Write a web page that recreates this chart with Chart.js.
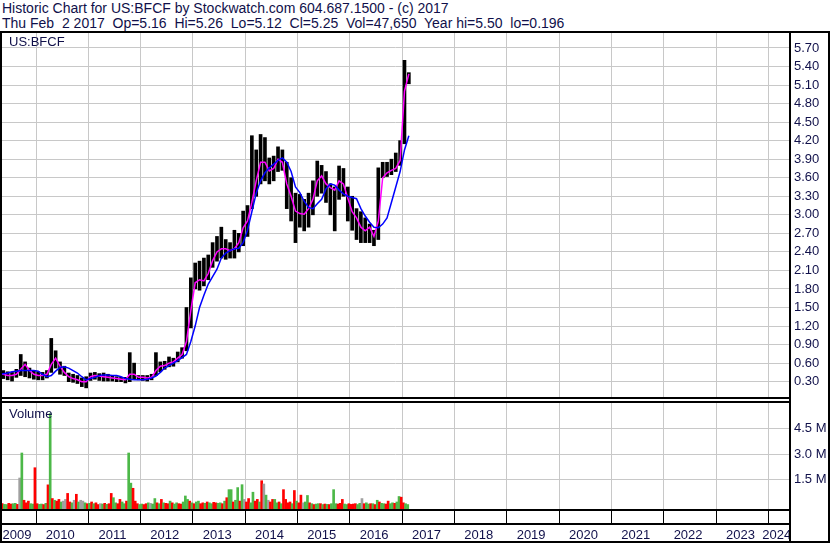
<!DOCTYPE html>
<html>
<head>
<meta charset="utf-8">
<title>Historic Chart for US:BFCF</title>
<script src="https://cdn.jsdelivr.net/npm/chart.js@4.4.1/dist/chart.umd.min.js"></script>
<style>
  html, body { margin: 0; padding: 0; background: #fff; }
  #wrap { position: relative; width: 830px; height: 543px; overflow: hidden; background: #fff;
          font-family: "Liberation Sans", Arial, sans-serif; color: #10104a; }
  .txt { position: absolute; white-space: pre; }
  .ln { position: absolute; background: #000; }
  canvas { position: absolute; left: 0; }
</style>
</head>
<body>
<div id="wrap">
  <div class="txt" style="left:2px;top:1px;font-size:14px;line-height:15px">Historic Chart for US:BFCF by Stockwatch.com 604.687.1500 - (c) 2017
Thu Feb  2 2017  Op=5.16  Hi=5.26  Lo=5.12  Cl=5.25  Vol=47,650  Year hi=5.50  lo=0.196</div>
  <canvas id="price" width="830" height="364" style="top:33px"></canvas>
  <canvas id="volume" width="830" height="140" style="top:403px"></canvas>
  <div class="txt" style="left:9px;top:34px;font-size:13px;line-height:15px">US:BFCF</div>
  <div class="txt" style="left:9px;top:406px;font-size:13px;line-height:15px">Volume</div>
  <div class="ln" style="left:0;top:31px;width:830px;height:2px"></div>
  <div class="ln" style="left:0;top:31px;width:2px;height:512px"></div>
  <div class="ln" style="left:789px;top:31px;width:2px;height:512px"></div>
  <div class="ln" style="left:828px;top:31px;width:2px;height:512px"></div>
  <div class="ln" style="left:0;top:397px;width:791px;height:2px"></div>
  <div class="ln" style="left:0;top:401px;width:791px;height:2px"></div>
  <div class="ln" style="left:0;top:509px;width:791px;height:2px"></div>
  <div class="ln" style="left:0;top:523px;width:791px;height:2px"></div>
  <div class="ln" style="left:0;top:541px;width:830px;height:2px"></div>
</div>
<script>
// monthly bars, Apr 2009 .. Feb 2017
const months = [
  "2009-04","2009-05","2009-06","2009-07","2009-08","2009-09","2009-10","2009-11","2009-12",
  "2010-01","2010-02","2010-03","2010-04","2010-05","2010-06","2010-07","2010-08","2010-09","2010-10","2010-11","2010-12",
  "2011-01","2011-02","2011-03","2011-04","2011-05","2011-06","2011-07","2011-08","2011-09","2011-10","2011-11","2011-12",
  "2012-01","2012-02","2012-03","2012-04","2012-05","2012-06","2012-07","2012-08","2012-09","2012-10","2012-11","2012-12",
  "2013-01","2013-02","2013-03","2013-04","2013-05","2013-06","2013-07","2013-08","2013-09","2013-10","2013-11","2013-12",
  "2014-01","2014-02","2014-03","2014-04","2014-05","2014-06","2014-07","2014-08","2014-09","2014-10","2014-11","2014-12",
  "2015-01","2015-02","2015-03","2015-04","2015-05","2015-06","2015-07","2015-08","2015-09","2015-10","2015-11","2015-12",
  "2016-01","2016-02","2016-03","2016-04","2016-05","2016-06","2016-07","2016-08","2016-09","2016-10","2016-11","2016-12",
  "2017-01","2017-02"
];

const high = [
  0.50,0.48,0.46,0.45,0.50,0.74,0.62,0.52,0.47,
  0.46,0.45,0.48,1.00,0.80,0.62,0.55,0.44,0.42,0.40,0.36,0.38,
  0.44,0.45,0.43,0.44,0.42,0.40,0.38,0.37,0.37,0.77,0.60,0.40,
  0.40,0.40,0.42,0.77,0.62,0.63,0.70,0.68,0.78,0.85,1.50,1.98,
  2.22,2.25,2.30,2.35,2.55,2.65,2.80,2.60,2.55,2.75,2.70,3.06,
  3.15,4.28,4.05,4.30,4.25,3.92,3.95,4.10,4.05,3.85,3.60,3.35,
  3.33,3.25,3.35,3.55,3.87,3.80,3.70,3.50,3.45,3.79,3.75,3.45,
  3.30,3.10,3.05,2.95,2.85,2.75,3.76,3.85,3.85,3.90,4.00,4.20,
  5.50,5.30
];
const low = [
  0.36,0.35,0.33,0.31,0.37,0.40,0.38,0.36,0.34,
  0.33,0.33,0.36,0.45,0.52,0.42,0.40,0.30,0.29,0.27,0.22,0.20,
  0.32,0.34,0.32,0.31,0.31,0.31,0.30,0.30,0.28,0.30,0.34,0.33,
  0.32,0.31,0.33,0.40,0.46,0.50,0.54,0.55,0.62,0.68,0.80,1.17,
  1.80,1.78,1.85,1.95,2.15,2.25,2.30,2.28,2.30,2.30,2.40,2.50,
  2.65,3.10,3.30,3.50,3.55,3.50,3.55,3.70,3.72,3.10,2.90,2.55,
  2.80,2.74,2.80,3.00,3.30,3.35,3.20,3.00,2.74,3.25,3.30,2.90,
  2.75,2.60,2.55,2.55,2.55,2.50,2.60,3.60,3.62,3.65,3.70,3.80,
  4.15,5.12
];
// short (magenta) and long (blue) moving averages as drawn
const shortAvg = [
  0.42,0.42,0.40,0.40,0.42,0.50,0.58,0.48,0.42,
  0.40,0.40,0.42,0.58,0.68,0.55,0.45,0.38,0.35,0.33,0.30,0.30,
  0.38,0.40,0.39,0.38,0.37,0.36,0.35,0.34,0.33,0.42,0.42,0.37,
  0.37,0.36,0.37,0.48,0.55,0.56,0.60,0.62,0.68,0.74,0.95,1.45,
  1.90,1.95,1.93,2.05,2.26,2.40,2.45,2.45,2.42,2.45,2.55,2.79,
  2.90,3.20,3.55,3.85,3.85,3.71,3.75,3.90,3.85,3.50,3.30,3.06,
  3.02,3.01,3.10,3.25,3.55,3.63,3.50,3.44,3.40,3.55,3.50,3.27,
  3.05,2.95,2.80,2.74,2.80,2.65,2.90,3.60,3.68,3.72,3.75,3.88,
  5.00,5.28
];
const longAvg = [
  0.42,0.43,0.44,0.46,0.47,0.48,0.48,0.48,0.48,
  0.47,0.42,0.38,0.40,0.47,0.53,0.54,0.52,0.48,0.44,0.38,0.33,
  0.35,0.37,0.40,0.41,0.41,0.40,0.40,0.38,0.35,0.34,0.33,0.33,
  0.33,0.34,0.36,0.39,0.45,0.52,0.56,0.60,0.64,0.69,0.74,0.95,
  1.20,1.50,1.70,1.88,2.00,2.12,2.30,2.38,2.42,2.45,2.46,2.55,
  2.75,3.05,3.35,3.55,3.68,3.76,3.82,3.88,3.92,3.85,3.70,3.45,
  3.36,3.22,3.12,3.10,3.18,3.25,3.42,3.50,3.48,3.40,3.34,3.30,
  3.28,3.26,3.10,2.98,2.88,2.80,2.79,2.85,2.95,3.20,3.45,3.70,
  4.05,4.28
];

// volume in millions, first and second half of each month
const volFirst = [
  0.08,0.10,0.05,0.08,0.12,1.60,0.30,0.25,0.08,
  0.10,0.08,0.12,5.36,0.30,0.35,0.25,0.70,0.15,0.65,0.30,0.15,
  0.12,0.10,0.05,0.08,0.06,0.70,0.15,0.35,0.10,3.06,1.00,0.10,
  0.08,0.10,0.12,0.40,0.10,0.15,0.10,0.15,0.15,0.08,0.55,0.25,
  0.10,0.25,0.15,0.20,0.10,0.15,0.15,0.25,0.92,0.20,1.04,1.21,
  0.20,0.15,0.25,0.20,1.25,0.30,0.35,0.15,0.10,0.35,0.20,0.87,
  0.15,0.15,0.58,0.10,0.08,0.10,0.08,0.05,0.92,0.08,0.35,0.05,
  0.06,0.10,0.12,0.10,0.08,0.10,0.30,0.12,0.08,0.10,0.12,0.52,
  0.15,0.05
];
const volSecond = [
  0.05,0.06,0.12,0.10,0.06,3.06,0.15,0.10,2.20,
  0.06,0.05,1.20,0.40,0.25,0.20,0.35,0.20,0.30,0.20,0.25,0.10,
  0.20,0.15,0.10,0.12,0.10,0.45,0.10,0.20,0.25,1.30,0.25,0.05,
  0.05,0.15,0.08,0.15,0.35,0.12,0.25,0.08,0.10,0.20,0.35,0.15,
  0.20,0.10,0.12,0.15,0.18,0.12,0.10,0.45,0.92,0.30,0.25,0.35,
  0.40,0.77,0.35,1.44,0.60,0.20,0.35,0.20,0.92,0.15,0.10,0.25,
  0.60,0.20,0.15,0.05,0.10,0.05,0.06,0.10,0.10,0.12,0.08,0.10,
  0.08,0.05,0.40,0.15,0.10,0.05,0.20,0.10,0.25,0.15,0.20,0.48,
  0.10,null
];
// g = up day, r = down day, n = unchanged
const dirFirst = ("grgrgnrrg" + "rggggrnrgrng" + "ggrggrgrggrr" + "grngggrrgrgr" +
  "rgrrgrgggrgg" + "rgrgnnrggrrr" + "rngggrrrgrrg" + "rrgrggggrgrg" + "rg").split("");
const dirSecond = ("rgrgrgrgr" + "grrrrgnrngnr" + "rrnrrgrgrgrg" + "rggrrrggrggg" +
  "grggrgrrggrn" + "rgrrgrgrrrgg" + "rgrrgggggrgr" + "rgngrrrgrggr" + "gg").split("");

// axis labels
const priceTicks = [0.30,0.60,0.90,1.20,1.50,1.80,2.10,2.40,2.70,3.00,3.30,3.60,3.90,4.20,4.50,4.80,5.10,5.40,5.70];
const volumeTicks = [1.5, 3.0, 4.5];
const years = [2009,2010,2011,2012,2013,2014,2015,2016,2017,2018,2019,2020,2021,2022,2023,2024];

const X_MIN = 2009.35, X_MAX = 2024.39;
const GRID = "#c8c8c8";
const INK = "#10104a";
const FONT = { family: '"Liberation Sans", Arial, sans-serif', size: 13 };
const UP = "#4cb848", DOWN = "#ff0000", FLAT = "#a0a0a0";

const monthStart = months.map(s => {
  const [y, m] = s.split("-").map(Number);
  return y + (m - 1) / 12;
});
const monthMid = monthStart.map(t => t + 0.5 / 12);

const yearLines = years.slice(1);
const labelPos = years.map(y => (Math.max(y, X_MIN) + Math.min(y + 1, X_MAX)) / 2);

const setTicks = vals => s => { s.ticks = vals.map(v => ({ value: v })); };
const fixY = s => { s.width = 41; s.paddingTop = 0; s.paddingBottom = 0; };
const fixX = h => s => { s.height = h; s.paddingLeft = 0; s.paddingRight = 0; };

function yearGrid(tickLen) {
  return {
    type: "linear", min: X_MIN, max: X_MAX, offset: false, weight: 0,
    grid: { color: GRID, offset: false, drawTicks: tickLen > 0, tickLength: tickLen, tickColor: "#000", tickWidth: 1 },
    border: { display: false },
    ticks: { display: false },
    afterBuildTicks: setTicks(yearLines),
    afterFit: fixX(tickLen)
  };
}

const common = {
  responsive: false,
  animation: false,
  events: [],
  layout: { padding: { left: 2, right: 0, top: 0, bottom: 0 } },
  plugins: { legend: { display: false }, tooltip: { enabled: false } }
};

new Chart(document.getElementById("price"), {
  type: "bar",
  data: {
    datasets: [
      {
        type: "line",
        data: monthMid.map((x, i) => ({ x, y: longAvg[i] })),
        borderColor: "#0000ff", borderWidth: 1.5, pointRadius: 0, order: 1
      },
      {
        type: "line",
        data: monthMid.map((x, i) => ({ x, y: shortAvg[i] })),
        borderColor: "#ff00ff", borderWidth: 1.5, pointRadius: 0, order: 2
      },
      {
        type: "bar",
        data: monthMid.map((x, i) => ({ x, y: [low[i], high[i]] })),
        backgroundColor: "#000", borderWidth: 0, barThickness: 3, order: 3
      }
    ]
  },
  options: {
    ...common,
    scales: {
      x: yearGrid(0),
      y: {
        position: "right", min: 0.052, max: 5.942,
        grid: { color: GRID, drawTicks: false },
        border: { display: false },
        ticks: { color: INK, font: FONT, padding: 5, callback: v => v.toFixed(2) },
        afterBuildTicks: setTicks(priceTicks),
        afterFit: fixY
      }
    }
  }
});

const colorOf = { g: UP, r: DOWN, n: FLAT };
const volPoints = [], volColors = [];
months.forEach((m, i) => {
  [[volFirst[i], dirFirst[i], 0.25], [volSecond[i], dirSecond[i], 0.75]].forEach(([v, d, f]) => {
    if (v == null) return;
    volPoints.push({ x: monthStart[i] + f / 12, y: v });
    volColors.push(colorOf[d]);
  });
});

const VOL_MIN = -0.21;
new Chart(document.getElementById("volume"), {
  type: "bar",
  data: {
    datasets: [{
      data: volPoints, backgroundColor: volColors, borderWidth: 0,
      barThickness: 2, base: VOL_MIN
    }]
  },
  options: {
    ...common,
    scales: {
      x: yearGrid(15),
      yearLabels: {
        type: "linear", position: "bottom", weight: 1, min: X_MIN, max: X_MAX, offset: false,
        grid: { display: false, drawTicks: false },
        border: { display: false },
        ticks: {
          color: INK, font: FONT, padding: 4, autoSkip: false, maxRotation: 0, minRotation: 0,
          labelOffset: -2, callback: (v, i) => String(years[i])
        },
        afterBuildTicks: setTicks(labelPos),
        afterFit: fixX(19)
      },
      y: {
        position: "right", min: VOL_MIN, max: 5.978,
        grid: { color: GRID, drawTicks: false },
        border: { display: false },
        ticks: { color: INK, font: FONT, padding: 5, callback: v => v.toFixed(1) + " M" },
        afterBuildTicks: setTicks(volumeTicks),
        afterFit: fixY
      }
    }
  }
});
</script>
</body>
</html>
